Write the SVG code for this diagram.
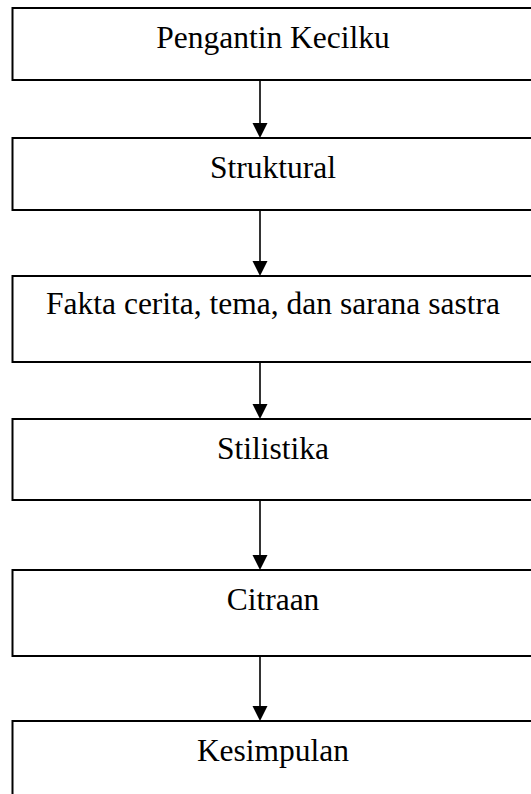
<svg xmlns="http://www.w3.org/2000/svg" width="531" height="794" viewBox="0 0 531 794">
  <style>
    .box { fill: #ffffff; stroke: #000000; stroke-width: 2; }
    .label { font-family: "Liberation Serif", "Times New Roman", serif; font-size: 31.5px; fill: #000000; text-anchor: middle; }
    .conn { stroke: #000000; stroke-width: 1.6; fill: none; }
    .head { fill: #000000; stroke: none; }
  </style>
  <rect width="531" height="794" fill="#ffffff"/>
  <g id="connectors">
    <line class="conn" x1="260" y1="81" x2="260" y2="124"/>
    <polygon class="head" points="252.5,123 267.5,123 260,138"/>
    <line class="conn" x1="260" y1="211" x2="260" y2="262"/>
    <polygon class="head" points="252.5,261 267.5,261 260,276"/>
    <line class="conn" x1="260" y1="363" x2="260" y2="405"/>
    <polygon class="head" points="252.5,404 267.5,404 260,419"/>
    <line class="conn" x1="260" y1="501" x2="260" y2="556"/>
    <polygon class="head" points="252.5,555 267.5,555 260,570"/>
    <line class="conn" x1="260" y1="657" x2="260" y2="707"/>
    <polygon class="head" points="252.5,706 267.5,706 260,721"/>
  </g>
  <g id="node1">
    <rect class="box" x="12.5" y="8" width="530" height="72"/>
    <text class="label" x="273" y="48">Pengantin Kecilku</text>
  </g>
  <g id="node2">
    <rect class="box" x="12.5" y="138" width="530" height="72"/>
    <text class="label" x="273" y="178">Struktural</text>
  </g>
  <g id="node3">
    <rect class="box" x="12.5" y="276" width="530" height="86"/>
    <text class="label" x="273" y="314">Fakta cerita, tema, dan sarana sastra</text>
  </g>
  <g id="node4">
    <rect class="box" x="12.5" y="419" width="530" height="81"/>
    <text class="label" x="273" y="459">Stilistika</text>
  </g>
  <g id="node5">
    <rect class="box" x="12.5" y="570" width="530" height="86"/>
    <text class="label" x="273" y="610">Citraan</text>
  </g>
  <g id="node6">
    <rect class="box" x="12.5" y="721" width="530" height="90"/>
    <text class="label" x="273" y="761">Kesimpulan</text>
  </g>
</svg>
